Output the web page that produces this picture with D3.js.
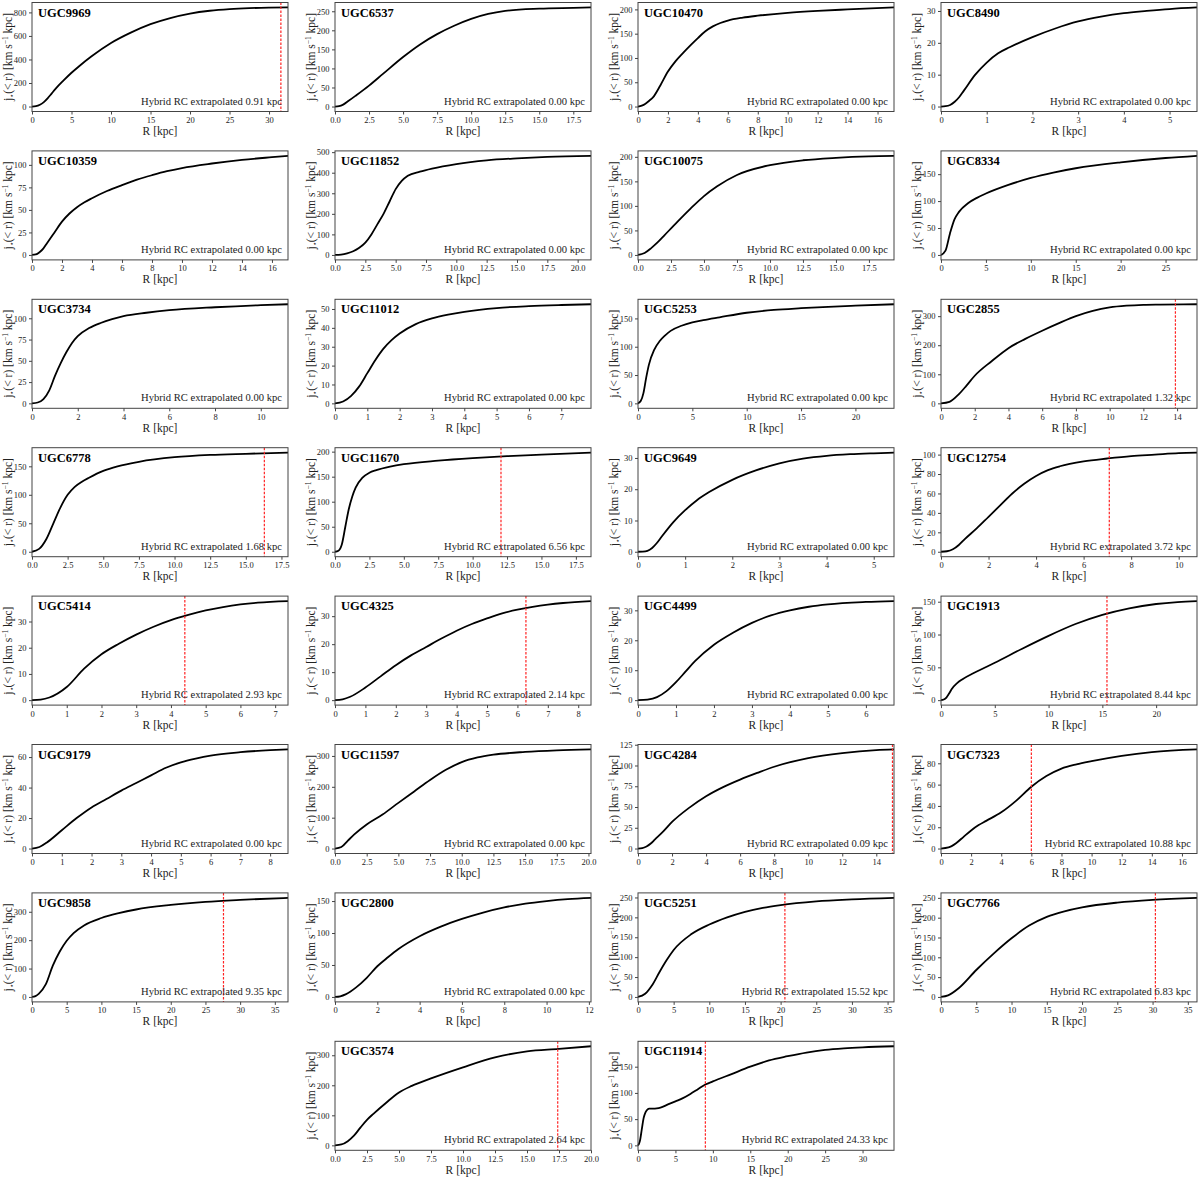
<!DOCTYPE html>
<html>
<head>
<meta charset="utf-8">
<script src="https://cdn.jsdelivr.net/npm/d3@7"></script>
<style>
  body { margin: 0; background: #fff; }
  svg { display: block; font-family: "Liberation Serif", "DejaVu Serif", serif; }
  .axis path { display: none; }
  .axis line { stroke: #444; }
  .axis text { fill: #222; font-size: 8.5px; font-family: "Liberation Serif", serif; }
</style>
</head>
<body>
<svg id="chart" width="1200" height="1178"></svg>
<script>
// noms des galaxies, dans l'ordre des panneaux
const galaxies = ['UGC9969', 'UGC6537', 'UGC10470', 'UGC8490',
    'UGC10359', 'UGC11852', 'UGC10075', 'UGC8334',
    'UGC3734', 'UGC11012', 'UGC5253', 'UGC2855',
    'UGC6778', 'UGC11670', 'UGC9649', 'UGC12754',
    'UGC5414', 'UGC4325', 'UGC4499', 'UGC1913',
    'UGC9179', 'UGC11597', 'UGC4284', 'UGC7323',
    'UGC9858', 'UGC2800', 'UGC5251', 'UGC7766',
    'UGC3574', 'UGC11914'];

// limite droite de l'axe R (kpc)
const xMax = [32.4, 18.8, 17.1, 5.6,
    17.07, 21.1, 19.4, 28.5,
    11.19, 7.92, 23.55, 15.18,
    17.96, 18.6, 5.43, 10.77,
    7.37, 8.42, 6.74, 23.8,
    8.6, 20.2, 15.04, 17,
    36.9, 12.1, 35.9, 36.3,
    20, 34.2];

// pas des graduations
const xStep = [5, 2.5, 2, 1,
    2, 2.5, 2.5, 5,
    2, 1, 5, 2,
    2.5, 2.5, 1, 2,
    1, 1, 1, 5,
    1, 2.5, 2, 2,
    5, 2, 5, 5,
    2.5, 5];
const yStep = [200, 50, 50, 10,
    25, 100, 50, 50,
    25, 10, 50, 100,
    50, 50, 10, 20,
    10, 10, 10, 50,
    20, 100, 25, 20,
    100, 50, 50, 50,
    100, 50];

// longueur extrapolée (texte) et position de la ligne rouge
const extrapolated = ['0.91', '0.00', '0.00', '0.00',
    '0.00', '0.00', '0.00', '0.00',
    '0.00', '0.00', '0.00', '1.32',
    '1.68', '6.56', '0.00', '3.72',
    '2.93', '2.14', '0.00', '8.44',
    '0.00', '0.00', '0.09', '10.88',
    '9.35', '0.00', '15.52', '6.83',
    '2.64', '24.33'];
const redLine = [31.5, null, null, null,
    null, null, null, null,
    null, null, null, 13.9,
    16.3, 12.06, null, 7.08,
    4.4, 6.28, null, 15.43,
    null, null, 14.95, 6.0,
    27.6, null, 20.6, 30.4,
    17.4, 9.0];

// profils j*(<r) : [R, j]
const profiles = [
    [[0,0],[0.5,3],[1,15],[1.5,38],[2,72],[2.5,112],[3,152],[4,222],[5,287],[6,345],[7.5,425],[10,540],[12.5,628],[15,700],[17.5,752],[20,790],[22.5,814],[25,828],[27.5,836],[30,840],[32.4,842]],
    [[0,0],[0.3,1],[0.6,5],[1,15],[1.5,28],[2.5,55],[3.5,85],[5,130],[6.25,163],[7.5,190],[8.75,212],[10,230],[11.25,243],[12.5,251],[15,257],[17.5,259],[18.8,260]],
    [[0,0],[0.25,2],[0.5,6],[0.75,12],[1,19],[1.5,44],[2,72],[2.5,93],[3,110],[3.5,126],[4,141],[4.5,155],[5,165],[5.5,172],[6,177],[7,183],[8,187],[10,193],[12,197],[14,200],[17.1,204]],
    [[0,0],[0.1,0.1],[0.2,0.5],[0.3,1.5],[0.4,3],[0.5,5],[0.75,10],[1,13.8],[1.25,16.7],[1.5,18.6],[2,21.8],[2.5,24.5],[3,26.7],[3.5,28.2],[4,29.3],[4.5,30.0],[5,30.6],[5.6,31.1]],
    [[0,0],[0.25,0.5],[0.5,3],[0.75,7],[1,13],[1.5,25],[2,37],[2.5,46],[3,53],[3.5,58.5],[4,63],[5,71],[6,77.5],[7,83.5],[8,88.5],[9,93],[10,96.5],[12,101.5],[14,105.5],[16,108.5],[17.07,110]],
    [[0,0],[0.5,2],[1,8],[1.5,18],[2,35],[2.5,60],[3,100],[3.5,150],[4,200],[4.5,260],[5,320],[5.5,360],[6,385],[7,405],[8,420],[10,442],[12.5,460],[15,470],[17.5,477],[21.1,482]],
    [[0,0],[0.5,4],[1,14],[1.5,26],[2,40],[3,68],[4,95],[5,120],[6,140],[7.5,163],[10,183],[12.5,193],[15,198],[17.5,201],[19.4,202]],
    [[0,0],[0.5,8],[1,40],[1.5,66],[2,80],[3,96],[4,106],[5,114],[7.5,130],[10,143],[12.5,153],[15,161],[20,172],[25,180],[28.5,184]],
    [[0,0],[0.25,1],[0.5,5],[0.75,15],[1,32],[1.25,47],[1.5,60],[1.75,71],[2,79],[2.5,88.5],[3,94.5],[3.5,99],[4,102.5],[5,106.5],[6,109.5],[8,113],[10,115.5],[11.19,116.5]],
    [[0,0],[0.25,1],[0.5,4],[0.75,9],[1,16],[1.25,23],[1.5,29],[1.75,33.5],[2,37],[2.5,42],[3,45],[3.5,47],[4,48.5],[5,50.5],[6,51.5],[7,52.1],[7.92,52.5]],
    [[0,0],[0.25,4],[0.5,18],[0.75,45],[1,68],[1.5,95],[2,110],[2.5,120],[3,128],[4,137],[5,143],[6,147],[7.5,152],[10,160],[12.5,165],[15,168],[17.5,170.5],[20,172.5],[23.55,175]],
    [[0,0],[0.5,5],[1,28],[1.5,60],[2,95],[3,145],[4,190],[5,222],[6,250],[7,276],[8,300],[9,318],[10,330],[11,336],[12,339],[13,340],[15.18,341]],
    [[0,0],[0.5,5],[1,22],[1.5,50],[2,78],[2.5,100],[3,114],[3.5,123],[4,130],[5,142],[6,150],[7.5,158],[10,166],[12.5,170],[15,172],[17.96,174]],
    [[0,0],[0.25,2],[0.5,15],[0.75,50],[1,85],[1.25,110],[1.5,128],[2,148],[2.5,158],[3,163],[4,170],[5,175],[7.5,182],[10,187],[12.5,191],[15,194],[18.6,198]],
    [[0,0],[0.1,0.05],[0.2,0.3],[0.3,1.2],[0.4,2.8],[0.5,4.8],[0.75,9.5],[1,13.3],[1.25,16.5],[1.5,19],[2,23],[2.5,26],[3,28.3],[3.5,29.8],[4,30.7],[4.5,31.2],[5,31.5],[5.43,31.7]],
    [[0,0],[0.25,0.5],[0.5,2.5],[0.75,7],[1,13],[1.5,24],[2,36],[2.5,48],[3,60],[3.5,70],[4,78],[4.5,84],[5,88],[6,93],[7,96],[8,98.5],[9,100],[10,101.5],[10.77,102]],
    [[0,0],[0.25,0.2],[0.5,1],[1,5],[1.5,12],[2,17.5],[2.5,21.5],[3,25],[3.5,28],[4,30.5],[4.5,32.5],[5,34.2],[5.5,35.5],[6,36.5],[6.5,37.2],[7.37,37.8]],
    [[0,0],[0.25,0.3],[0.5,1.2],[1,4.5],[1.5,8.5],[2,12.5],[2.5,16],[3,19],[3.5,22],[4,24.8],[4.5,27.2],[5,29.2],[5.5,31],[6,32.3],[6.5,33.3],[7,34.1],[7.5,34.7],[8.42,35.4]],
    [[0,0],[0.25,0.2],[0.5,1],[0.75,3],[1,6],[1.25,9.5],[1.5,13],[2,18.5],[2.5,22.5],[3,25.8],[3.5,28.3],[4,30],[4.5,31.2],[5,32],[6,32.8],[6.74,33.1]],
    [[0,0],[0.25,1],[0.5,4],[0.75,10],[1,17],[1.5,26],[2,32],[3,41],[4,49],[5,57],[7.5,78],[10,98],[12.5,116],[15,130],[17.5,140],[20,146.5],[22,149.5],[23.8,151]],
    [[0,0],[0.25,1],[0.5,4],[1,12],[1.5,20],[2,27],[2.5,32.5],[3,38],[3.5,43],[4,48],[4.5,53],[5,56.5],[5.5,59],[6,61],[7,63.2],[8,64.5],[8.6,65]],
    [[0,0],[0.5,5],[1,25],[1.5,45],[2.5,78],[3.75,110],[5,148],[6.25,185],[7.5,222],[8.75,255],[10,280],[11.25,295],[12.5,304],[15,313],[17.5,318],[20.2,321]],
    [[0,0],[0.25,0.5],[0.5,2.5],[0.75,6],[1,11],[1.5,21],[2,32],[3,49],[4,63],[5,74],[6,83],[7,91],[8,98.5],[10,109],[12,115],[14,118.5],[15.04,119.3]],
    [[0,0],[0.5,1],[1,5],[1.5,11],[2,17],[2.5,22],[3,26],[4,34],[5,45],[6,58],[7,68],[8,75],[9,79],[10,82],[12,87],[14,90.5],[17,93]],
    [[0,0],[0.5,3],[1,12],[2,45],[3,110],[4,160],[5,198],[6,225],[7.5,252],[10,278],[12.5,295],[15,308],[20,324],[25,335],[30,342],[36.9,349]],
    [[0,0],[0.25,1],[0.5,4],[1,15],[1.5,30],[2,48],[2.5,62],[3,75],[4,95],[5,110],[6,122],[7,132],[8,140],[9,146],[10,150],[11,153],[12.1,155]],
    [[0,0],[1,8],[2,30],[3,62],[4,92],[5,118],[7.5,158],[10,182],[12.5,200],[15,214],[17.5,224],[20,231],[25,240],[30,245],[35.9,249]],
    [[0,0],[1,4],[2.5,22],[5,68],[7.5,110],[10,148],[12.5,180],[15,202],[17.5,216],[20,226],[25,238],[30,245],[36.3,250]],
    [[0,0],[0.5,3],[1,14],[1.5,33],[2,60],[2.5,85],[3,105],[4,142],[5,176],[6,198],[7.5,223],[10,260],[12.5,293],[15,313],[17.5,321],[20,330]],
    [[0,0],[0.1,2],[0.25,8],[0.5,30],[0.75,52],[1,63],[1.25,68],[1.5,70],[2,70],[2.5,70.5],[3,72],[4,78],[5,84],[6,90],[7,98],[8,107],[9,116],[10,122],[12.5,136],[15,150],[17.5,162],[20,170],[22.5,177],[25,182],[27.5,185],[30,187],[34.2,189]]
];

// taille et position des panneaux
const panelW = 256;
const panelH = 109;

const svg = d3.select('#chart');

galaxies.forEach(function (name, i) {
    let row = Math.floor(i / 4);
    let col = i % 4;
    if (i >= 28) col = i - 27; // dernière ligne centrée
    const left = 32 + col * 303;
    const top = 2.5 + row * 148.4;

    const pts = profiles[i];
    const jMax = d3.max(pts, d => d[1]);

    const x = d3.scaleLinear().domain([0, xMax[i]]).range([0, panelW]);
    const y = d3.scaleLinear().domain([-0.05 * jMax, 1.05 * jMax]).range([panelH, 0]);

    const g = svg.append('g').attr('transform', `translate(${left},${top})`);

    // graduations
    const xt = d3.range(0, xMax[i] + 1e-9, xStep[i]);
    const yt = d3.range(0, 1.05 * jMax + 1e-9, yStep[i]);
    const xFmt = xStep[i] % 1 ? d3.format('.1f') : d3.format('d');

    g.append('g')
        .attr('class', 'axis')
        .attr('transform', `translate(0,${panelH})`)
        .call(d3.axisBottom(x).tickValues(xt).tickFormat(xFmt).tickSize(3).tickPadding(2.5));

    g.append('g')
        .attr('class', 'axis')
        .call(d3.axisLeft(y).tickValues(yt).tickFormat(d3.format('d')).tickSize(3).tickPadding(2.5));

    // la courbe
    const line = d3.line()
        .x(d => x(d[0]))
        .y(d => y(d[1]))
        .curve(d3.curveMonotoneX);

    g.append('path')
        .datum(pts)
        .attr('d', line)
        .attr('fill', 'none')
        .attr('stroke', '#000')
        .attr('stroke-width', 1.8);

    // ligne rouge (rayon où commence l'extrapolation)
    if (redLine[i] !== null) {
        g.append('line')
            .attr('x1', x(redLine[i])).attr('x2', x(redLine[i]))
            .attr('y1', 0).attr('y2', panelH)
            .attr('stroke', '#f22')
            .attr('stroke-width', 1.2)
            .attr('stroke-dasharray', '2.5,1.5');
    }

    // cadre
    g.append('rect')
        .attr('width', panelW).attr('height', panelH)
        .attr('fill', 'none')
        .attr('stroke', '#444')
        .attr('stroke-width', 1);

    // nom de la galaxie
    g.append('text')
        .attr('x', 6).attr('y', 14)
        .attr('font-size', 12.5)
        .attr('font-weight', 'bold')
        .text(name);

    // annotation
    g.append('text')
        .attr('x', panelW - 6).attr('y', panelH - 7)
        .attr('text-anchor', 'end')
        .attr('font-size', 10.6)
        .attr('fill', '#222')
        .text('Hybrid RC extrapolated ' + extrapolated[i] + ' kpc');

    // titres des axes
    g.append('text')
        .attr('x', panelW / 2).attr('y', panelH + 23.5)
        .attr('text-anchor', 'middle')
        .attr('font-size', 11.5)
        .attr('fill', '#222')
        .text('R [kpc]');

    const yl = g.append('text')
        .attr('transform', `translate(-20,${panelH / 2}) rotate(-90)`)
        .attr('text-anchor', 'middle')
        .attr('font-size', 11.5)
        .attr('fill', '#222');
    yl.append('tspan').text('j');
    yl.append('tspan').attr('font-size', 7).attr('dy', 2).text('⋆');
    yl.append('tspan').attr('dy', -2).text('(< r) [km s');
    yl.append('tspan').attr('font-size', 7.5).attr('dy', -4.5).text('−1');
    yl.append('tspan').attr('dy', 4.5).text(' kpc]');
});
</script>
</body>
</html>
